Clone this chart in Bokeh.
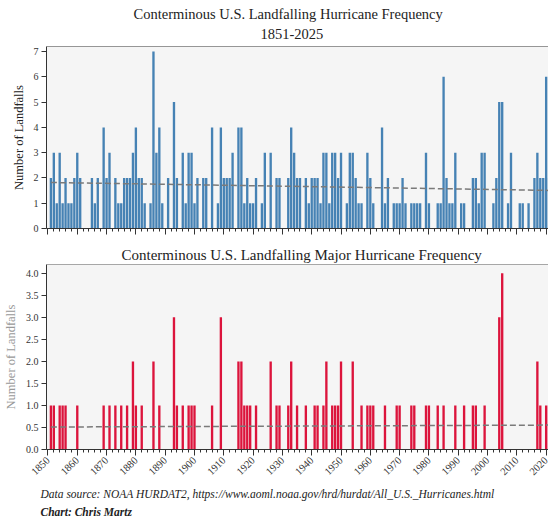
import numpy as np
from bokeh.plotting import figure
from bokeh.layouts import column
from bokeh.models import (Title, Span, FixedTicker, Range1d, PrintfTickFormatter,
                          ColumnDataSource, CustomLabelingPolicy, Spacer)
from bokeh.embed import file_html
from bokeh.resources import INLINE

# ---------------- data ----------------
years = list(range(1851, 2026))

# all landfalling hurricanes per year, 1851-2025 (by decade)
all_1851 = [2, 3, 1, 3, 1, 2, 1, 1, 2, 3]
all_1861 = [2, 0, 0, 0, 2, 1, 2, 0, 4, 2]
all_1871 = [3, 0, 2, 1, 1, 2, 2, 2, 3, 4]
all_1881 = [2, 2, 1, 0, 1, 7, 3, 4, 1, 0]
all_1891 = [2, 0, 5, 2, 0, 3, 1, 3, 3, 1]
all_1901 = [2, 0, 2, 2, 0, 4, 0, 1, 4, 2]
all_1911 = [2, 2, 3, 0, 4, 4, 1, 2, 1, 1]
all_1921 = [2, 0, 1, 3, 0, 3, 0, 2, 2, 0]
all_1931 = [0, 2, 4, 3, 2, 2, 0, 2, 1, 2]
all_1941 = [2, 2, 1, 3, 3, 1, 3, 3, 2, 3]
all_1951 = [0, 1, 3, 3, 2, 1, 1, 0, 3, 2]
all_1961 = [1, 0, 0, 4, 1, 2, 0, 1, 1, 1]
all_1971 = [2, 1, 0, 1, 1, 1, 1, 0, 3, 1]
all_1981 = [0, 0, 1, 1, 6, 2, 1, 1, 3, 0]
all_1991 = [1, 1, 0, 0, 2, 2, 1, 3, 3, 0]
all_2001 = [0, 1, 2, 5, 5, 0, 1, 3, 0, 0]
all_2011 = [1, 1, 0, 1, 0, 2, 3, 2, 2, 6]
all_2021 = [2, 2, 1, 5, 0]

# major landfalling hurricanes per year, 1851-2025 (by decade)
maj_1851 = [1, 1, 0, 1, 1, 1, 0, 0, 0, 1]
maj_1861 = [0, 0, 0, 0, 0, 0, 0, 0, 1, 0]
maj_1871 = [1, 0, 1, 0, 1, 0, 1, 0, 2, 1]
maj_1881 = [0, 1, 0, 0, 0, 2, 0, 1, 0, 0]
maj_1891 = [0, 0, 3, 1, 0, 1, 0, 1, 1, 1]
maj_1901 = [0, 0, 0, 0, 0, 1, 0, 0, 3, 0]
maj_1911 = [0, 0, 0, 0, 2, 2, 1, 1, 1, 0]
maj_1921 = [1, 0, 0, 0, 0, 2, 0, 1, 1, 0]
maj_1931 = [0, 1, 2, 0, 1, 0, 0, 1, 0, 0]
maj_1941 = [1, 1, 0, 1, 2, 0, 1, 1, 1, 2]
maj_1951 = [0, 0, 0, 2, 0, 0, 1, 0, 1, 1]
maj_1961 = [1, 0, 0, 0, 1, 0, 0, 0, 1, 1]
maj_1971 = [0, 0, 0, 1, 1, 0, 0, 0, 1, 1]
maj_1981 = [0, 0, 1, 0, 1, 0, 0, 0, 1, 0]
maj_1991 = [0, 1, 0, 0, 1, 1, 0, 0, 1, 0]
maj_2001 = [0, 0, 0, 3, 4, 0, 0, 0, 0, 0]
maj_2011 = [0, 0, 0, 0, 0, 0, 2, 1, 0, 1]
maj_2021 = [1, 1, 1, 2, 0]

all_landfalls = (all_1851 + all_1861 + all_1871 + all_1881 + all_1891 + all_1901 +
                 all_1911 + all_1921 + all_1931 + all_1941 + all_1951 + all_1961 +
                 all_1971 + all_1981 + all_1991 + all_2001 + all_2011 + all_2021)
major_landfalls = (maj_1851 + maj_1861 + maj_1871 + maj_1881 + maj_1891 + maj_1901 +
                   maj_1911 + maj_1921 + maj_1931 + maj_1941 + maj_1951 + maj_1961 +
                   maj_1971 + maj_1981 + maj_1991 + maj_2001 + maj_2011 + maj_2021)

# linear trend end points
trend_years = [1851, 2025]
trend_all = [1.82, 1.50]
trend_major = [0.51, 0.555]

x_major_ticks = list(range(1850, 2030, 10))
x_minor_ticks = list(range(1850, 2030, 2))
y_ticks_all = [0, 1, 2, 3, 4, 5, 6, 7]
y_ticks_major = [0.0, 0.5, 1.0, 1.5, 2.0, 2.5, 3.0, 3.5, 4.0]

title_all = "Conterminous U.S. Landfalling Hurricane Frequency"
subtitle_all = "1851-2025"
title_major = "Conterminous U.S. Landfalling Major Hurricane Frequency"
y_label = "Number of Landfalls"
source_text = "Data source: NOAA HURDAT2, https://www.aoml.noaa.gov/hrd/hurdat/All_U.S._Hurricanes.html"
credit_text = "Chart: Chris Martz"

# ---------------- styling ----------------
SERIF = "Liberation Serif"
BLUE = "#4682b4"
RED = "#dc143c"
FRAME_BG = "#f5f5f5"
AXIS_C = "#333333"
X0, X1 = 1849.5, 2020.8
W = 548


def style_axes(p, yticks, show_xlabels):
    p.grid.visible = False
    p.outline_line_color = None
    p.background_fill_color = FRAME_BG
    p.border_fill_color = "white"
    xa = p.xaxis[0]
    xa.ticker = FixedTicker(ticks=x_major_ticks, minor_ticks=x_minor_ticks)
    xa.axis_line_color = AXIS_C
    xa.major_tick_line_color = AXIS_C
    xa.minor_tick_line_color = AXIS_C
    xa.major_tick_in = 0
    xa.major_tick_out = 6
    xa.minor_tick_in = 0
    xa.minor_tick_out = 3
    if show_xlabels:
        xa.major_label_orientation = np.pi / 4
        xa.major_label_text_font = SERIF
        xa.major_label_text_font_size = "10.5px"
        xa.major_label_text_color = "#333333"
        xa.major_label_standoff = 3
    else:
        xa.major_label_policy = CustomLabelingPolicy(code="return []")
        xa.major_label_text_font_size = "2px"
        xa.major_label_standoff = 0
    ya = p.yaxis[0]
    ya.ticker = FixedTicker(ticks=yticks)
    ya.axis_line_color = AXIS_C
    ya.major_tick_line_color = AXIS_C
    ya.minor_tick_line_color = None
    ya.major_tick_in = 0
    ya.major_tick_out = 5
    ya.major_label_text_font = SERIF
    ya.major_label_text_font_size = "10px"
    ya.major_label_text_color = "#333333"
    ya.major_label_standoff = 3
    ya.axis_label_text_font = SERIF
    ya.axis_label_text_font_style = "normal"
    ya.axis_label_text_font_size = "12.5px"
    ya.axis_label_text_color = "#222222"
    ya.axis_label_standoff = 5


# ---------------- top chart ----------------
src_all = ColumnDataSource(data=dict(year=years, n=all_landfalls))
p1 = figure(width=W, height=235, title=None,
            x_range=Range1d(X0, X1), y_range=Range1d(0, 7.2),
            output_backend="svg", toolbar_location=None,
            min_border_left=46, min_border_right=0, min_border_top=0, min_border_bottom=12)
style_axes(p1, y_ticks_all, False)
p1.yaxis[0].axis_label = y_label
p1.vbar(x="year", top="n", width=0.8, source=src_all, color=BLUE, line_color=None)
p1.line(trend_years, trend_all, line_color="#7a7a7a", line_width=1.5, line_dash="6 3")
p1.add_layout(Span(location=7.2, dimension="width", line_color=AXIS_C, line_width=1))
p1.add_layout(Title(text=subtitle_all, align="left", text_font=SERIF, text_font_size="14.5px",
                    text_font_style="normal", text_color="#222222", standoff=15, offset=214), "above")
p1.add_layout(Title(text=title_all, align="left", text_font=SERIF, text_font_size="14.5px",
                    text_font_style="normal", text_color="#222222", standoff=-4, offset=87), "above")

# ---------------- bottom chart ----------------
src_maj = ColumnDataSource(data=dict(year=years, n=major_landfalls))
p2 = figure(width=W, height=277, title=None,
            x_range=Range1d(X0, X1), y_range=Range1d(0, 4.2),
            output_backend="svg", toolbar_location=None,
            min_border_left=46, min_border_right=0, min_border_top=24, min_border_bottom=66)
style_axes(p2, y_ticks_major, True)
p2.yaxis[0].formatter = PrintfTickFormatter(format="%.1f")
p2.yaxis[0].axis_label = y_label
p2.yaxis[0].axis_label_text_color = "#999999"
p2.vbar(x="year", top="n", width=0.8, source=src_maj, color=RED, line_color=None)
p2.line(trend_years, trend_major, line_color="#7a7a7a", line_width=1.5, line_dash="6 3")
p2.add_layout(Span(location=4.2, dimension="width", line_color="#555555", line_width=1))
p2.add_layout(Title(text=title_major, align="left", text_font=SERIF, text_font_size="15px",
                    text_font_style="normal", text_color="#222222", standoff=4, offset=75), "above")
p2.add_layout(Title(text=source_text, align="left", text_font=SERIF, text_font_size="11.5px",
                    text_font_style="italic", text_color="#222222", standoff=8, offset=-6), "below")
p2.add_layout(Title(text=credit_text, align="left", text_font=SERIF, text_font_size="11.5px",
                    text_font_style="bold italic", text_color="#222222", standoff=0, offset=-6), "below")

layout = column(Spacer(width=W, height=5), p1, p2, spacing=0)
open("out.html", "w").write(file_html(layout, INLINE))
